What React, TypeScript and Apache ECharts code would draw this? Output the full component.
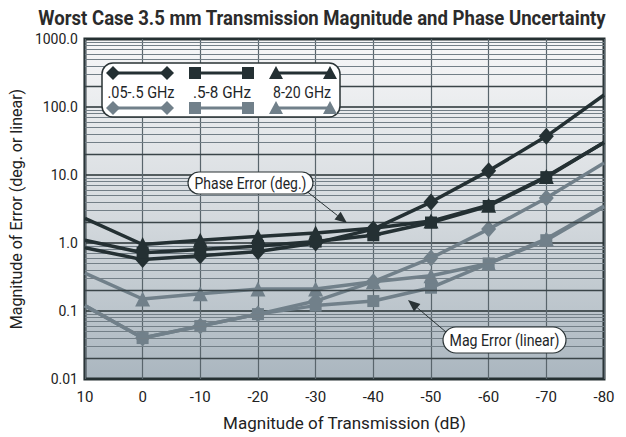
import React, { useEffect, useRef } from "react";
import * as echarts from "echarts";

const xValues = [10, 0, -10, -20, -30, -40, -50, -60, -70, -80];
const phaseLow = [0.85, 0.57, 0.65, 0.75, 1.0, 1.6, 4.0, 11.5, 37, 150];
const phaseMid = [1.1, 0.72, 0.8, 0.9, 1.05, 1.3, 2.0, 3.5, 9.3, 30];
const phaseHigh = [2.3, 0.95, 1.1, 1.25, 1.4, 1.65, 2.1, 3.6, 9.5, 30];
const magLow = [0.12, 0.04, 0.06, 0.09, 0.14, 0.27, 0.6, 1.6, 4.6, 15];
const magMid = [0.12, 0.04, 0.06, 0.09, 0.12, 0.14, 0.22, 0.5, 1.1, 3.4];
const magHigh = [0.36, 0.15, 0.18, 0.21, 0.21, 0.27, 0.33, 0.5, 1.15, 3.5];
const yTickLabels: Record<string, string> = {
  "0.01": "0.01",
  "0.1": "0.1",
  "1": "1.0",
  "10": "10.0",
  "100": "100.0",
  "1000": "1000.0",
};
const legendNames = [".05-.5 GHz", ".5-8 GHz", "8-20 GHz"];
const decades = [0.01, 0.1, 1, 10, 100];
const titleText = "Worst Case 3.5 mm Transmission Magnitude and Phase Uncertainty";

const FONT = "Roboto, 'Liberation Sans', sans-serif";
const DARK = "#243033";
const GRAY = "#71808a";

let measureCtx: CanvasRenderingContext2D | null = null;
function fitScale(text: string, font: string, width: number) {
  if (!measureCtx) measureCtx = document.createElement("canvas").getContext("2d");
  if (!measureCtx) return 1;
  measureCtx.font = font;
  const w = measureCtx.measureText(text).width;
  return w > 0 ? Math.min(1, width / w) : 1;
}

function condensedText(text: string, cx: number, cy: number, font: string, width: number, fill: string, z: number) {
  const s = fitScale(text, font, width);
  return {
    type: "text",
    x: cx,
    y: cy,
    scaleX: s,
    style: { text, font, fill, align: "center", verticalAlign: "middle" },
    z,
  };
}

function App() {
  const ref = useRef<HTMLDivElement>(null);
  useEffect(() => {
    document.body.style.margin = "0";
    if (!ref.current) return;
    const chart = echarts.init(ref.current, undefined, { renderer: "svg" });

    const strongLines: any[] = [];
    const minorLines: any[] = [];
    decades.forEach((d) => {
      for (let k = 2; k <= 9; k++) {
        const v = +(d * k).toPrecision(3);
        if (k === 2) strongLines.push({ yAxis: v });
        else minorLines.push({ yAxis: v });
      }
    });

    const mk = (vals: number[]) =>
      vals.map((v, i) => {
        const item: any = { value: [xValues[i], v] };
        if (i === 0 || i === vals.length - 1) item.symbol = "none";
        return item;
      });

    const series = (
      name: string,
      vals: number[],
      color: string,
      symbol: string,
      size: number | number[]
    ) => ({
      type: "line",
      name,
      data: mk(vals),
      symbol,
      symbolSize: size,
      showSymbol: true,
      lineStyle: { color, width: 3.5 },
      itemStyle: { color, borderWidth: 0 },
      z: color === DARK ? 5 : 4,
    });

    const legendGraphic: any[] = [];
    legendGraphic.push({
      type: "rect",
      shape: { x: 102, y: 63, width: 238, height: 54, r: 11 },
      style: { fill: "#ffffff", stroke: "#2a3335", lineWidth: 1.5 },
      z: 50,
    });
    const cols = [
      { x1: 113, x2: 167, tx: 141, tw: 67, sym: "diamond" },
      { x1: 195, x2: 248, tx: 222, tw: 58, sym: "rect" },
      { x1: 276, x2: 330, tx: 302, tw: 58, sym: "triangle" },
    ];
    const marker = (sym: string, cx: number, cy: number, fill: string) => {
      if (sym === "diamond")
        return {
          type: "polygon",
          shape: { points: [[cx, cy - 7], [cx + 7, cy], [cx, cy + 7], [cx - 7, cy]] },
          style: { fill },
          z: 52,
        };
      if (sym === "rect")
        return {
          type: "rect",
          shape: { x: cx - 6, y: cy - 6, width: 12, height: 12 },
          style: { fill },
          z: 52,
        };
      return {
        type: "polygon",
        shape: { points: [[cx, cy - 7], [cx + 7, cy + 6], [cx - 7, cy + 6]] },
        style: { fill },
        z: 52,
      };
    };
    cols.forEach((c, i) => {
      [
        { y: 73, color: DARK },
        { y: 108, color: GRAY },
      ].forEach((row) => {
        legendGraphic.push({
          type: "line",
          shape: { x1: c.x1, y1: row.y, x2: c.x2, y2: row.y },
          style: { stroke: row.color, lineWidth: 3 },
          z: 51,
        });
        legendGraphic.push(marker(c.sym, c.x1, row.y, row.color));
        legendGraphic.push(marker(c.sym, c.x2, row.y, row.color));
      });
      legendGraphic.push(condensedText(legendNames[i], c.tx, 92, `17px ${FONT}`, c.tw, "#1e2628", 52));
    });

    const annotation = (
      x: number,
      y: number,
      w: number,
      h: number,
      text: string,
      tw: number,
      ax1: number,
      ay1: number,
      ax2: number,
      ay2: number
    ) => {
      const ang = Math.atan2(ay2 - ay1, ax2 - ax1);
      const L = 12;
      const W = 5;
      const bx = ax2 - L * Math.cos(ang);
      const by = ay2 - L * Math.sin(ang);
      const px = -Math.sin(ang) * W;
      const py = Math.cos(ang) * W;
      return [
        {
          type: "line",
          shape: { x1: ax1, y1: ay1, x2: bx, y2: by },
          style: { stroke: "#2a3335", lineWidth: 1 },
          z: 50,
        },
        {
          type: "polygon",
          shape: { points: [[ax2, ay2], [bx + px, by + py], [bx - px, by - py]] },
          style: { fill: "#2a3335" },
          z: 50,
        },
        {
          type: "rect",
          shape: { x, y, width: w, height: h, r: h / 2 },
          style: { fill: "#ffffff", stroke: "#2a3335", lineWidth: 1.2 },
          z: 51,
        },
        condensedText(text, x + w / 2, y + h / 2 + 1, `16px ${FONT}`, tw, "#1e2628", 52),
      ];
    };

    const option: any = {
      animation: false,
      backgroundColor: "#ffffff",
      grid: {
        left: 82,
        right: 22,
        top: 39,
        bottom: 58,
        show: true,
        borderColor: "#263033",
        borderWidth: 3,
        backgroundColor: new echarts.graphic.LinearGradient(0, 0, 0, 1, [
          { offset: 0, color: "#f7f7f8" },
          { offset: 0.5, color: "#d6dbdf" },
          { offset: 1, color: "#aab6bf" },
        ]),
      },
      xAxis: {
        type: "value",
        inverse: true,
        min: -80,
        max: 10,
        interval: 10,
        axisLine: { show: false },
        axisTick: { show: false },
        splitLine: { show: true, lineStyle: { color: "#59656c", width: 1.2 } },
        axisLabel: { fontFamily: FONT, fontSize: 15, color: "#222", margin: 10 },
        name: "Magnitude of Transmission (dB)",
        nameLocation: "middle",
        nameGap: 35,
        nameTextStyle: { fontFamily: FONT, fontSize: 17, color: "#222" },
      },
      yAxis: {
        type: "log",
        logBase: 10,
        min: 0.01,
        max: 1000,
        axisLine: { show: false },
        axisTick: { show: false },
        splitLine: { show: true, lineStyle: { color: "#263033", width: 1.6 } },
        axisLabel: {
          fontFamily: FONT,
          fontSize: 14,
          color: "#222",
          margin: 7,
          formatter: (v: number) => yTickLabels[String(+v.toPrecision(3))] ?? String(v),
        },
        name: "Magnitude of Error (deg. or linear)",
        nameLocation: "middle",
        nameGap: 58,
        nameRotate: 90,
        nameTextStyle: { fontFamily: FONT, fontSize: 16, color: "#222" },
      },
      series: [
        {
          type: "line",
          data: [],
          silent: true,
          markLine: {
            silent: true,
            symbol: "none",
            label: { show: false },
            lineStyle: { color: "#737f87", width: 1, type: "solid" },
            data: minorLines,
          },
          z: 1,
        },
        {
          type: "line",
          data: [],
          silent: true,
          markLine: {
            silent: true,
            symbol: "none",
            label: { show: false },
            lineStyle: { color: "#3a4448", width: 1.4, type: "solid" },
            data: strongLines,
          },
          z: 1,
        },
        series("mag .05-.5", magLow, GRAY, "diamond", [15, 17]),
        series("mag .5-8", magMid, GRAY, "rect", 12),
        series("mag 8-20", magHigh, GRAY, "triangle", 15),
        series("phase .05-.5", phaseLow, DARK, "diamond", [15, 17]),
        series("phase .5-8", phaseMid, DARK, "rect", 12),
        series("phase 8-20", phaseHigh, DARK, "triangle", 15),
      ],
      graphic: [
        condensedText(titleText, 322, 18, `bold 20px ${FONT}`, 568, "#2b2b2b", 60),
        ...legendGraphic,
        ...annotation(188, 172, 125, 22, "Phase Error (deg.)", 112, 305, 190, 347, 223),
        ...annotation(443, 327, 123, 26, "Mag Error (linear)", 110, 446, 332, 408, 300),
      ],
    };
    chart.setOption(option);
    return () => chart.dispose();
  }, []);
  return <div ref={ref} style={{ width: 626, height: 437 }} />;
}

export default App;
